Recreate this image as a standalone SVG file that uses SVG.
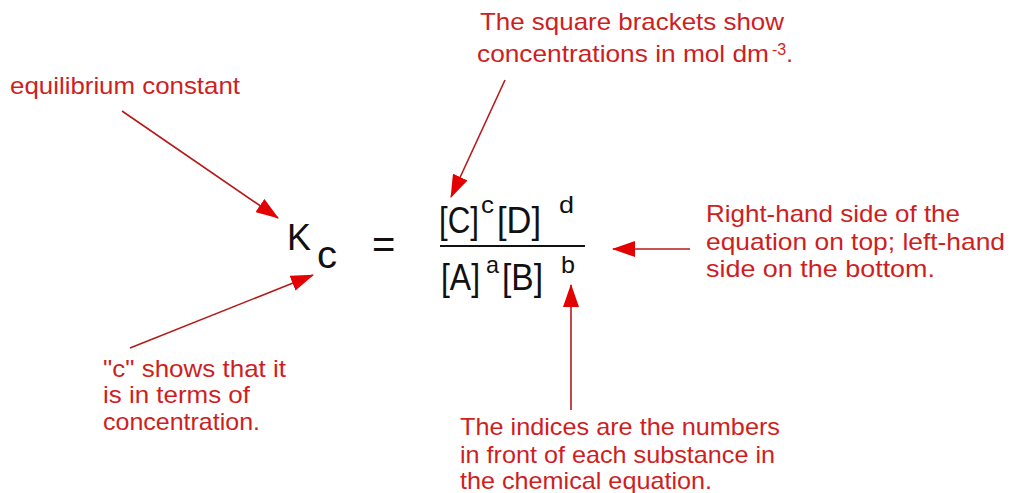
<svg xmlns="http://www.w3.org/2000/svg" width="1011" height="493" viewBox="0 0 1011 493">
  <style>
    .lbl { font-family: "Liberation Sans", Arial, sans-serif; font-size: 24px; fill: #cf1e1e; }
    .small { font-size: 16px; }
    .eq { font-family: "Liberation Sans", Arial, sans-serif; fill: #111111; }
    .big { font-size: 37px; }
    .sup { font-size: 24px; }
    .conn { stroke: #b51a1a; stroke-width: 1.6; fill: none; marker-end: url(#head); }
  </style>
  <defs>
    <marker id="head" markerUnits="userSpaceOnUse" viewBox="0 0 23 16" markerWidth="23" markerHeight="16" refX="22" refY="8" orient="auto">
      <path d="M0,0 L23,8 L0,16 z" fill="#e30000"/>
    </marker>
  </defs>
  <rect width="1011" height="493" fill="#ffffff"/>

  <g id="connectors">
    <line class="conn" x1="122" y1="111" x2="278" y2="218"/>
    <line class="conn" x1="505" y1="80" x2="451" y2="197"/>
    <line class="conn" x1="130" y1="348" x2="313" y2="275"/>
    <line class="conn" x1="690" y1="249" x2="613" y2="249"/>
    <line class="conn" x1="571" y1="410" x2="571" y2="285"/>
  </g>

  <g id="equation">
    <text class="eq" x="287" y="250" font-size="36" textLength="24" lengthAdjust="spacingAndGlyphs">K</text>
    <text class="eq" x="317" y="268" font-size="38" textLength="20" lengthAdjust="spacingAndGlyphs">c</text>
    <text class="eq" x="372" y="258" font-size="40">=</text>
    <text class="eq big" x="439" y="233" textLength="40" lengthAdjust="spacingAndGlyphs">[C]</text>
    <text class="eq sup" x="481" y="213" textLength="13" lengthAdjust="spacingAndGlyphs">c</text>
    <text class="eq big" x="497" y="233" textLength="44" lengthAdjust="spacingAndGlyphs">[D]</text>
    <text class="eq sup" x="559" y="213" textLength="15" lengthAdjust="spacingAndGlyphs">d</text>
    <line x1="440" y1="246" x2="585" y2="246" stroke="#111111" stroke-width="2"/>
    <text class="eq big" x="441" y="290" textLength="39" lengthAdjust="spacingAndGlyphs">[A]</text>
    <text class="eq sup" x="486" y="273" textLength="13" lengthAdjust="spacingAndGlyphs">a</text>
    <text class="eq big" x="502" y="290" textLength="41" lengthAdjust="spacingAndGlyphs">[B]</text>
    <text class="eq sup" x="561" y="273" textLength="14" lengthAdjust="spacingAndGlyphs">b</text>
  </g>

  <g id="label-equilibrium">
    <text class="lbl" x="10" y="94" textLength="230" lengthAdjust="spacingAndGlyphs">equilibrium constant</text>
  </g>

  <g id="label-brackets">
    <text class="lbl" x="480" y="30" textLength="304" lengthAdjust="spacingAndGlyphs">The square brackets show</text>
    <text class="lbl" x="477" y="62" textLength="292" lengthAdjust="spacingAndGlyphs">concentrations in mol dm</text>
    <text class="lbl" x="772" y="62"><tspan class="small" dy="-7">-3</tspan><tspan dy="7">.</tspan></text>
  </g>

  <g id="label-c">
    <text class="lbl" x="103" y="377" textLength="183" lengthAdjust="spacingAndGlyphs">"c" shows that it</text>
    <text class="lbl" x="103" y="403" textLength="147" lengthAdjust="spacingAndGlyphs">is in terms of</text>
    <text class="lbl" x="103" y="430" textLength="157" lengthAdjust="spacingAndGlyphs">concentration.</text>
  </g>

  <g id="label-sides">
    <text class="lbl" x="706" y="222" textLength="254" lengthAdjust="spacingAndGlyphs">Right-hand side of the</text>
    <text class="lbl" x="706" y="250" textLength="299" lengthAdjust="spacingAndGlyphs">equation on top;  left-hand</text>
    <text class="lbl" x="706" y="277" textLength="229" lengthAdjust="spacingAndGlyphs">side on the bottom.</text>
  </g>

  <g id="label-indices">
    <text class="lbl" x="460" y="435" textLength="320" lengthAdjust="spacingAndGlyphs">The indices are the numbers</text>
    <text class="lbl" x="460" y="463" textLength="315" lengthAdjust="spacingAndGlyphs">in front of each substance in</text>
    <text class="lbl" x="460" y="489" textLength="252" lengthAdjust="spacingAndGlyphs">the chemical equation.</text>
  </g>
</svg>
